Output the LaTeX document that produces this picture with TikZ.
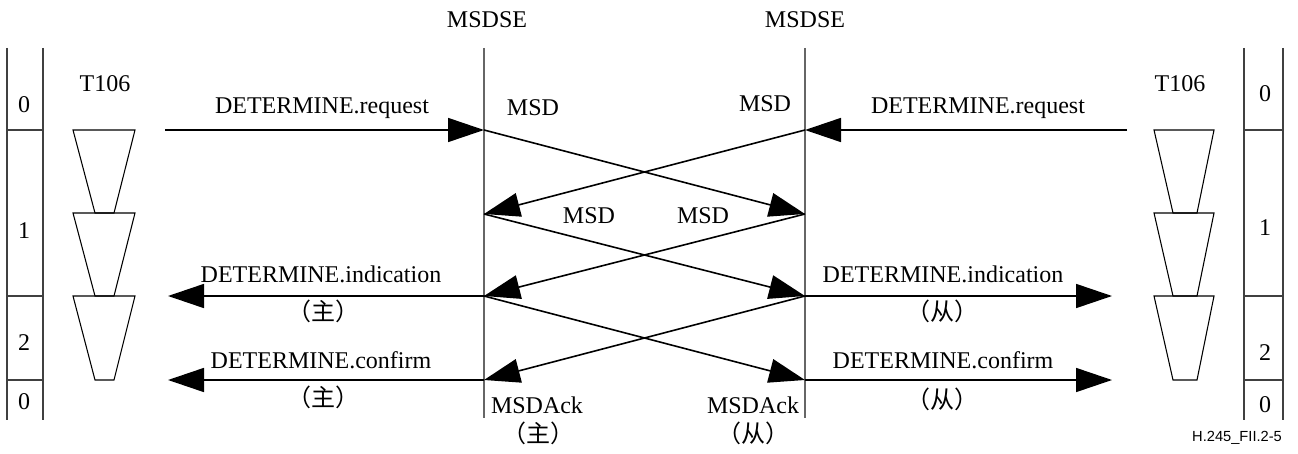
\documentclass[tikz,border=0pt]{standalone}
\usepackage{fontspec}
\setmainfont{Liberation Serif}
\newfontfamily\cjk{Noto Sans CJK SC}
\newfontfamily\figsans{Liberation Sans}
\usetikzlibrary{arrows.meta}
\begin{document}
\begin{tikzpicture}[x=0.75pt,y=-0.75pt,
  lbl/.style={font=\fontsize{18}{20}\selectfont, inner sep=0pt},
  cn/.style={font=\cjk\fontsize{18}{20}\selectfont, inner sep=0pt},
  msg/.style={line width=1.2pt, -{Triangle[length=27pt,width=18pt]}},
  life/.style={draw=black!60, line width=0.9pt},
  frame/.style={draw=black!75, line width=0.9pt},
  trap/.style={draw=black, line width=0.8pt}]
\useasboundingbox (0,0) rectangle (1298,453);

% lifelines
\coordinate (AT) at (484,48); \coordinate (AB) at (484,418);
\coordinate (BT) at (805,48); \coordinate (BB) at (805,418);
\draw[life] (AT) -- (AB);
\draw[life] (BT) -- (BB);
\node[lbl] (sa) at (487,20) {MSDSE};
\node[lbl] (sb) at (805,20) {MSDSE};

% points on lifelines
\coordinate (A0) at (484,130); \coordinate (A1) at (484,214);
\coordinate (A2) at (484,296); \coordinate (A3) at (484,380);
\coordinate (B0) at (805,130); \coordinate (B1) at (805,214);
\coordinate (B2) at (805,296); \coordinate (B3) at (805,380);

% outer ends
\coordinate (LR) at (165,130); \coordinate (RR) at (1127,130);
\coordinate (LI) at (168,296); \coordinate (LC) at (168,380);
\coordinate (RI) at (1112,296); \coordinate (RC) at (1112,380);

\draw[msg] (LR) -- (A0);
\draw[msg] (RR) -- (B0);
\draw[msg] (A0) -- (B1);
\draw[msg] (B0) -- (A1);
\draw[msg] (A1) -- (B2);
\draw[msg] (B1) -- (A2);
\draw[msg] (A2) -- (B3);
\draw[msg] (B2) -- (A3);
\draw[msg] (A2) -- (LI);
\draw[msg] (A3) -- (LC);
\draw[msg] (B2) -- (RI);
\draw[msg] (B3) -- (RC);

% message labels
\node[lbl] (t1) at (322,108) {DETERMINE.request};
\node[lbl] (t2) at (978,108) {DETERMINE.request};
\node[lbl] (m1) at (533,108) {MSD};
\node[lbl] (m2) at (765,104) {MSD};
\node[lbl] (m3) at (589,216) {MSD};
\node[lbl] (m4) at (703,216) {MSD};
\node[lbl] (t3) at (321,274) {DETERMINE.indication};
\node[cn]  (c1) at (323,311) {（主）};
\node[lbl] (t4) at (321,360) {DETERMINE.confirm};
\node[cn]  (c2) at (323,397) {（主）};
\node[lbl] (t5) at (943,274) {DETERMINE.indication};
\node[cn]  (c3) at (942,311) {（从）};
\node[lbl] (t6) at (943,360) {DETERMINE.confirm};
\node[cn]  (c4) at (942,399) {（从）};
\node[lbl] (k1) at (537,405) {MSDAck};
\node[cn]  (c5) at (538,433) {（主）};
\node[lbl] (k2) at (753,405) {MSDAck};
\node[cn]  (c6) at (753,433) {（从）};

% left state column
\draw[frame] (7,48) -- (7,420);
\draw[frame] (43,48) -- (43,420);
\draw[frame] (7,130) -- (43,130);
\draw[frame] (7,296) -- (43,296);
\draw[frame] (7,380) -- (43,380);
\node[lbl] (ls0) at (24,105) {0};
\node[lbl] (ls1) at (24,231) {1};
\node[lbl] (ls2) at (24,343) {2};
\node[lbl] (ls3) at (24,402) {0};

% right state column
\draw[frame] (1244,48) -- (1244,420);
\draw[frame] (1283,48) -- (1283,420);
\draw[frame] (1244,130) -- (1283,130);
\draw[frame] (1244,296) -- (1283,296);
\draw[frame] (1244,380) -- (1283,380);
\node[lbl] (rs0) at (1265,94) {0};
\node[lbl] (rs1) at (1265,228) {1};
\node[lbl] (rs2) at (1265,353) {2};
\node[lbl] (rs3) at (1265,405) {0};

% timers
\node[lbl] (tl) at (105,84) {T106};
\node[lbl] (tr) at (1180,84) {T106};
\foreach \yt/\yb in {130/213, 213/296, 296/380} {
  \draw[trap] (73,\yt) -- (135,\yt) -- (114,\yb) -- (95,\yb) -- cycle;
  \draw[trap] (1154,\yt) -- (1214,\yt) -- (1197,\yb) -- (1173,\yb) -- cycle;
}

\node[font=\figsans\fontsize{11}{13}\selectfont, inner sep=0pt] (fig) at (1237,438) {H.245\_FII.2-5};
\end{tikzpicture}
\end{document}
